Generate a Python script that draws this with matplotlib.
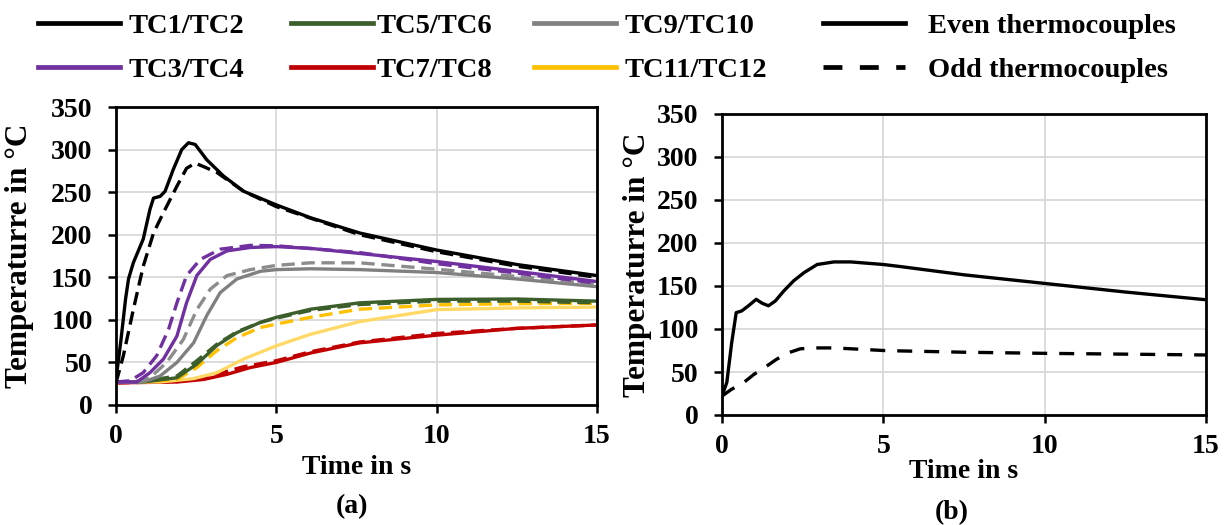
import matplotlib
matplotlib.use("Agg")
import matplotlib.pyplot as plt
from matplotlib.lines import Line2D

plt.rcParams['font.family'] = ['Liberation Serif', 'DejaVu Serif']
plt.rcParams['font.weight'] = 'bold'

# ---------------- data: panel (a) ----------------
tc1_even_t = [0, 0.15, 0.3, 0.39, 0.54, 0.85, 1.06, 1.17, 1.375, 1.53, 1.79, 2.05, 2.26, 2.47, 2.83, 3.35, 3.98, 5, 6.06, 7.6, 10, 12.5, 15]
tc1_even_v = [30, 75, 125, 148, 167, 195, 230, 243, 245, 251, 277, 300, 308, 306, 288, 269, 251, 235, 220, 202, 182, 165, 152]
tc1_odd_t = [0, 0.23, 0.54, 0.85, 1.17, 1.48, 1.9, 2.2, 2.47, 2.73, 3.15, 3.98, 5, 7.6, 10, 12.5, 15]
tc1_odd_v = [26, 58, 112, 163, 202, 226, 257, 278, 284, 280, 273, 251, 233, 200, 180, 163, 150]

tc3_even_t = [0, 0.65, 1.06, 1.48, 1.9, 2.2, 2.52, 2.94, 3.46, 4.19, 5, 6.06, 7.6, 10, 12.5, 15]
tc3_even_v = [27, 27, 38, 54, 81, 120, 152, 171, 181, 185, 186, 184, 178, 168.5, 157, 145]
tc3_odd_t = [0, 0.44, 0.85, 1.27, 1.64, 1.9, 2.2, 2.63, 3.25, 4.19, 5, 7.6, 10, 12.5, 15]
tc3_odd_v = [27, 28.5, 38, 58, 89, 120, 152, 171, 183, 187.5, 187, 179, 166, 155, 143]

tc5_even_t = [0, 0.85, 1.9, 2.52, 3.15, 3.77, 4.5, 5, 6.06, 7.6, 10, 12.5, 15]
tc5_even_v = [27, 27, 32, 48, 70, 85, 97, 103, 112.5, 120, 124, 124.5, 122]
tc5_odd_t = [0, 0.85, 1.9, 2.52, 3.15, 3.77, 4.5, 5, 6.06, 7.6, 10, 12.5, 15]
tc5_odd_v = [27, 28, 34, 52, 71.5, 86, 97, 102, 111, 118, 122, 122, 120]

tc7_even_t = [0, 1.9, 2.73, 3.46, 4.19, 5, 6.06, 7.6, 10, 12.5, 15]
tc7_even_v = [26, 27, 30, 36, 44, 50, 61, 73, 82, 90, 94]
tc7_odd_t = [0, 1.9, 2.94, 3.98, 5, 6.06, 7.6, 10, 12.5, 15]
tc7_odd_v = [26, 27.5, 34, 45, 52, 62.5, 74, 84, 90, 94]

tc9_even_t = [0, 0.85, 1.375, 1.9, 2.42, 2.83, 3.25, 3.77, 4.5, 5, 6.06, 7.6, 10, 12.5, 15]
tc9_even_v = [27, 27, 34, 50, 73, 105, 132, 148, 157, 159, 160, 159, 155.6, 148, 139]
tc9_odd_t = [0, 0.6, 1.06, 1.58, 2.1, 2.52, 2.94, 3.46, 4.19, 5, 6.06, 7.6, 10, 12.5, 15]
tc9_odd_v = [27, 27, 32, 50, 77, 112, 136, 152, 159, 164, 167, 167, 159.5, 151, 142]

tc11_even_t = [0, 1.375, 2.42, 3.15, 3.98, 5, 6.06, 7.6, 10, 12.5, 15]
tc11_even_v = [27, 27, 31, 38, 54, 69.5, 83, 98, 112, 114, 115]
tc11_odd_t = [0, 0.85, 1.9, 2.52, 3.15, 3.77, 4.5, 5, 6.06, 7.6, 10, 12.5, 15]
tc11_odd_v = [27, 27, 30, 44, 64, 79, 91, 95, 103, 112.5, 117.6, 119, 119.5]

# ---------------- data: panel (b) ----------------
b_even_t = [0, 0.15, 0.3, 0.44, 0.61, 0.82, 1.06, 1.24, 1.44, 1.65, 1.91, 2.22, 2.54, 2.95, 3.47, 3.99, 5, 5.55, 7.5, 10, 12.5, 15]
b_even_v = [22, 38, 84, 119, 121, 127, 134.5, 130, 127, 132.5, 144, 156, 165.5, 175, 178, 178, 175, 172.5, 163, 153, 143, 134]
b_odd_t = [0, 0.3, 0.67, 0.98, 1.39, 1.7, 2.07, 2.43, 2.85, 3.47, 3.99, 5, 5.55, 7.5, 10, 15]
b_odd_v = [22, 30, 37.6, 47, 57, 65, 72.5, 77, 78, 78, 77, 75, 74.5, 73, 71.7, 69.8]

x_ticks = [0, 5, 10, 15]
y_ticks = [0, 50, 100, 150, 200, 250, 300, 350]
x_label = "Time in s"
y_label = "Temperaturre in °C"
legend_a = ['TC1/TC2', 'TC3/TC4', 'TC5/TC6', 'TC7/TC8', 'TC9/TC10', 'TC11/TC12']
legend_b = ['Even thermocouples', 'Odd thermocouples']

FS_TICK = 20
FS_LAB = 20
FS_YLAB = 22.5
FS_LEG = 20.5
LW = 2.4
DASH_A = (0, (4, 2))
DASH_B = (0, (4.5, 3.6))

W, H = 1227, 525
fig = plt.figure(figsize=(W/100, H/100), dpi=100)
ax1 = fig.add_axes([116/W, 1-405/H, (597-116)/W, (405-107)/H])
ax2 = fig.add_axes([722/W, 1-415/H, (1206-722)/W, (415-114)/H])

c_black = '#000000'
c_purple = '#7030A0'
c_green = '#3B5E2B'
c_red = '#C00000'
c_gray = '#808080'
c_gray_d = '#8C8C8C'
c_yel = '#FFD966'
c_yel_d = '#FFC000'

# panel (a): draw lower curves first
ax1.plot(tc7_odd_t, tc7_odd_v, color=c_red, lw=LW, ls=DASH_A)
ax1.plot(tc7_even_t, tc7_even_v, color=c_red, lw=LW)
ax1.plot(tc11_even_t, tc11_even_v, color=c_yel, lw=LW)
ax1.plot(tc11_odd_t, tc11_odd_v, color=c_yel_d, lw=LW, ls=DASH_A)
ax1.plot(tc5_even_t, tc5_even_v, color=c_green, lw=LW)
ax1.plot(tc5_odd_t, tc5_odd_v, color=c_green, lw=LW, ls=DASH_A)
ax1.plot(tc9_even_t, tc9_even_v, color=c_gray, lw=LW)
ax1.plot(tc9_odd_t, tc9_odd_v, color=c_gray_d, lw=LW, ls=DASH_A)
ax1.plot(tc3_even_t, tc3_even_v, color=c_purple, lw=LW)
ax1.plot(tc3_odd_t, tc3_odd_v, color=c_purple, lw=LW, ls=DASH_A)
ax1.plot(tc1_odd_t, tc1_odd_v, color=c_black, lw=LW, ls=DASH_A)
ax1.plot(tc1_even_t, tc1_even_v, color=c_black, lw=LW)

ax2.plot(b_even_t, b_even_v, color=c_black, lw=LW)
ax2.plot(b_odd_t, b_odd_v, color=c_black, lw=LW, ls=DASH_B)

# (axes, ylabel x, xlabel y, tag, tag x, tag y)
specs = [
    (ax1, (20-116)/481, -63/298, '(a)', 0.49, -102/298),
    (ax2, (637-722)/484, -56/301, '(b)', 0.475, -98/301),
]
for ax, ylx, xly, tag, tx, ty in specs:
    ax.set_xlim(0, 15)
    ax.set_ylim(0, 350)
    ax.set_xticks(x_ticks)
    ax.set_yticks(y_ticks)
    ax.grid(True, color='#D9D9D9', lw=1.3)
    ax.set_axisbelow(True)
    for s in ax.spines.values():
        s.set_linewidth(2.0)
        s.set_color('black')
    ax.tick_params(axis='both', direction='out', length=5.8, width=1.8,
                   labelsize=FS_TICK)
    ax.tick_params(axis='y', pad=11)
    ax.tick_params(axis='x', pad=8)
    for lab in ax.get_xticklabels() + ax.get_yticklabels():
        lab.set_fontweight('bold')
    ax.set_xlabel(x_label, fontsize=FS_LAB, fontweight='bold')
    ax.xaxis.label.set_va('center')
    ax.xaxis.set_label_coords(0.5, xly)
    ax.set_ylabel(y_label, fontsize=FS_YLAB, fontweight='bold')
    ax.yaxis.label.set_va('center')
    ax.yaxis.set_label_coords(ylx, 0.5)
    ax.text(tx, ty, tag, transform=ax.transAxes, ha='center', va='center',
            fontsize=FS_LAB, fontweight='bold')

# legend (four columns of two entries)
def h(color, ls='-'):
    return Line2D([], [], color=color, lw=3.4, ls=ls)

cols = [
    ([h(c_black), h(c_purple)], legend_a[0:2], 37, 0.28),
    ([h(c_green), h(c_red)], legend_a[2:4], 290, 0.12),
    ([h(c_gray), h(c_yel_d)], legend_a[4:6], 533, 0.28),
    ([h(c_black), h(c_black, (0, (4, 3.7)))], legend_b, 822, 0.8),
]
for handles, labels, xpx, tp in cols:
    fig.legend(handles, labels, loc='upper left',
               bbox_to_anchor=((xpx-2)/W, 0.98), frameon=False,
               handlelength=2.9, handletextpad=tp,
               labelspacing=0.61, borderaxespad=0.0, borderpad=0.1,
               prop={'weight': 'bold', 'size': FS_LEG})

fig.savefig('out.png', dpi=100)
